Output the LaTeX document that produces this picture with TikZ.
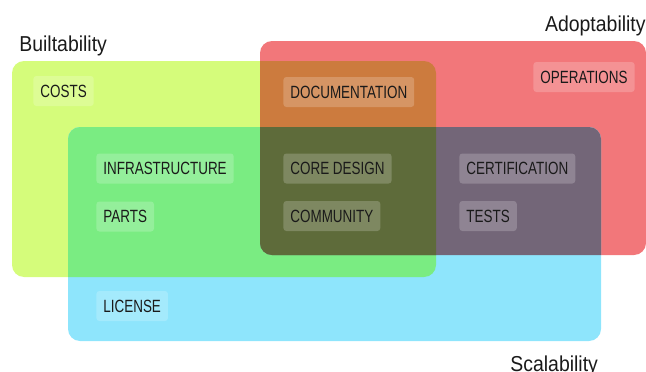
\documentclass[tikz,border=0pt]{standalone}
\usepackage{fontspec}
\newfontfamily\tagfont[FakeStretch=0.76]{Liberation Sans}
\newfontfamily\vennfont[FakeStretch=0.9]{Liberation Sans}
\definecolor{buildcol}{HTML}{D5FC7B}
\definecolor{adoptcol}{HTML}{F2777A}
\definecolor{scalecol}{HTML}{8EE5FC}
\definecolor{buildadopt}{HTML}{CC7B3E}
\definecolor{buildscale}{HTML}{7AEC82}
\definecolor{adoptscale}{HTML}{736678}
\definecolor{allthree}{HTML}{5E6B3A}
\definecolor{textcol}{HTML}{1A1A1A}

\begin{document}
\begin{tikzpicture}[x=1pt, y=-1pt, thick,
    tagbox/.style={anchor=west, fill=white, fill opacity=0.2, text opacity=1,
        rounded corners=3pt, inner xsep=7pt, minimum height=30pt, text=textcol,
        font=\tagfont\fontsize{17.7}{20}\selectfont},
    setlabel/.style={inner sep=0pt, text=textcol, font=\vennfont\fontsize{21.6}{24}\selectfont}]
    \useasboundingbox (0,0) rectangle (646,372);
    \fill[buildcol, rounded corners=12] (12,61) rectangle (436,277);
    \fill[adoptcol, rounded corners=12] (260,41) rectangle (646,255);
    \fill[scalecol, rounded corners=12] (68,127) rectangle (601,341);
    \begin{scope}
        \clip[rounded corners=12] (12,61) rectangle (436,277);
        \fill[buildadopt, rounded corners=12] (260,41) rectangle (646,255);
        \fill[buildscale, rounded corners=12] (68,127) rectangle (601,341);
    \end{scope}
    \begin{scope}
        \clip[rounded corners=12] (260,41) rectangle (646,255);
        \fill[adoptscale, rounded corners=12] (68,127) rectangle (601,341);
        \clip[rounded corners=12] (68,127) rectangle (601,341);
        \fill[allthree, rounded corners=12] (12,61) rectangle (436,277);
    \end{scope}
    \node[setlabel, anchor=base west] (build) at (19,51) {Builtability};
    \node[setlabel, anchor=base east] (adopt) at (646,31) {Adoptability};
    \node[setlabel, anchor=base west] (scale) at (510,371) {Scalability};
    \node[tagbox] (costs) at (33,91) {COSTS};
    \node[tagbox] (docu) at (283,92) {DOCUMENTATION};
    \node[tagbox] (ops) at (533,77) {OPERATIONS};
    \node[tagbox] (infra) at (96,168.5) {INFRASTRUCTURE};
    \node[tagbox] (core) at (283,168.5) {CORE DESIGN};
    \node[tagbox] (cert) at (459,168.5) {CERTIFICATION};
    \node[tagbox] (parts) at (96,216.5) {PARTS};
    \node[tagbox] (comm) at (283,216) {COMMUNITY};
    \node[tagbox] (tests) at (459,216) {TESTS};
    \node[tagbox] (license) at (96,306) {LICENSE};
\end{tikzpicture}
\end{document}
